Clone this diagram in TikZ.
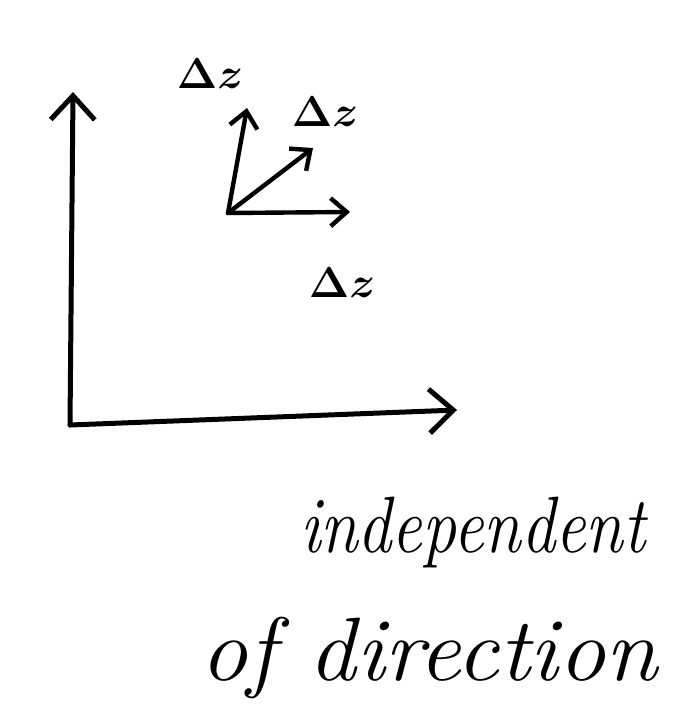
\documentclass[tikz,border=0pt]{standalone}
\usetikzlibrary{arrows.meta}
\begin{document}
\begin{tikzpicture}[x=1pt,y=-1pt,
  ink/.style={line width=5pt,line cap=round,line join=round,-{Straight Barb[length=24pt,width=44pt,line width=5pt]}},
  small/.style={line width=4.4pt,line cap=round,line join=round,-{Straight Barb[length=16pt,width=28pt,line width=4.4pt]}},
  lbl/.style={font=\LARGE\boldmath,scale=2.5,inner sep=0pt},
  big/.style={font=\fontsize{80}{82}\selectfont\itshape,inner sep=0pt,anchor=base west}]
\useasboundingbox (0,0) rectangle (688,723);
\coordinate (O) at (70,425);
\coordinate (Y) at (73,92);
\coordinate (X) at (457,410);
\draw[ink] (O) -- (Y);
\draw[ink] (O) -- (X);
\coordinate (o) at (228,213);
\coordinate (a) at (247,108);
\coordinate (b) at (313,148);
\coordinate (c) at (350,212);
\draw[small] (o) -- (a);
\draw[small] (o) -- (b);
\draw[small] (o) -- (c);
\node[lbl] (la) at (210,74) {$\Delta z$};
\node[lbl] (lb) at (325,112) {$\Delta z$};
\node[lbl] (lc) at (342,283) {$\Delta z$};
\node[big,xscale=0.85] (t1) at (300,552) {independent};
\node[big,font=\fontsize{90}{92}\selectfont\itshape,xscale=1.05] (t2) at (200,680) {of direction};
\end{tikzpicture}
\end{document}
